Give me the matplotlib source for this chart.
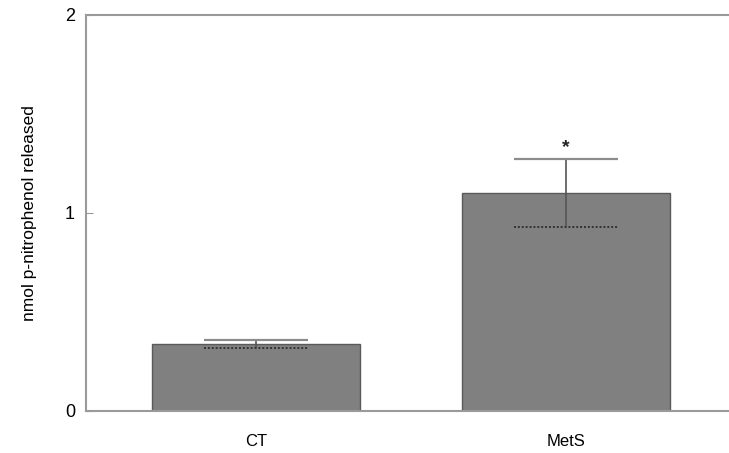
import matplotlib
matplotlib.use("Agg")
import matplotlib.pyplot as plt
import numpy as np

plt.rcParams["font.family"] = ["Liberation Sans", "DejaVu Sans"]

groups = ["CT", "MetS"]
means = [0.34, 1.10]
err_up = [0.02, 0.17]     # upper SE
err_dn = [0.02, 0.17]     # lower SE
star_y = 1.33             # significance marker above MetS

bar_col = "#808080"
spine_col = "#9a9a9a"

fig = plt.figure(figsize=(7.29, 4.53), dpi=100)
ax = fig.add_axes([0.118, 0.093, 0.882, 0.874])

x = np.arange(len(groups))
w = 0.672
ax.bar(x, means, width=w, color=bar_col, edgecolor="#5a5a5a", linewidth=1.0, zorder=2)

# error bars: vertical line, solid upper cap, dotted lower cap
cap = w / 2
for xi, m, up, dn in zip(x, means, err_up, err_dn):
    ax.vlines(xi, m - dn, m + up, color="#555555", linewidth=1.2, zorder=3)
    ax.hlines(m + up, xi - cap / 2, xi + cap / 2, color="#8c8c8c", linewidth=1.6, zorder=3)
    ax.hlines(m - dn, xi - cap / 2, xi + cap / 2, color="#333333", linewidth=1.4,
              linestyles=(0, (1, 1)), zorder=3)

ax.text(x[1], star_y, "*", ha="center", va="center", fontsize=14,
        fontweight="bold", color="#222222")

ax.set_xlim(-0.549, 1.528)
ax.set_ylim(0, 2)
ax.set_yticks([0, 1, 2])
ax.set_yticklabels(["0", "1", "2"], fontsize=13)
ax.set_xticks(x)
ax.set_xticklabels(groups, fontsize=12)
ax.tick_params(axis="x", length=0, pad=17)
ax.tick_params(axis="y", direction="in", length=5, color=spine_col, pad=8)
ax.set_ylabel("nmol p-nitrophenol released", fontsize=12.5, labelpad=20)

ax.spines["right"].set_visible(False)
for s in ["left", "top", "bottom"]:
    ax.spines[s].set_color(spine_col)
    ax.spines[s].set_linewidth(1.5)

fig.savefig("out.png", dpi=100)
